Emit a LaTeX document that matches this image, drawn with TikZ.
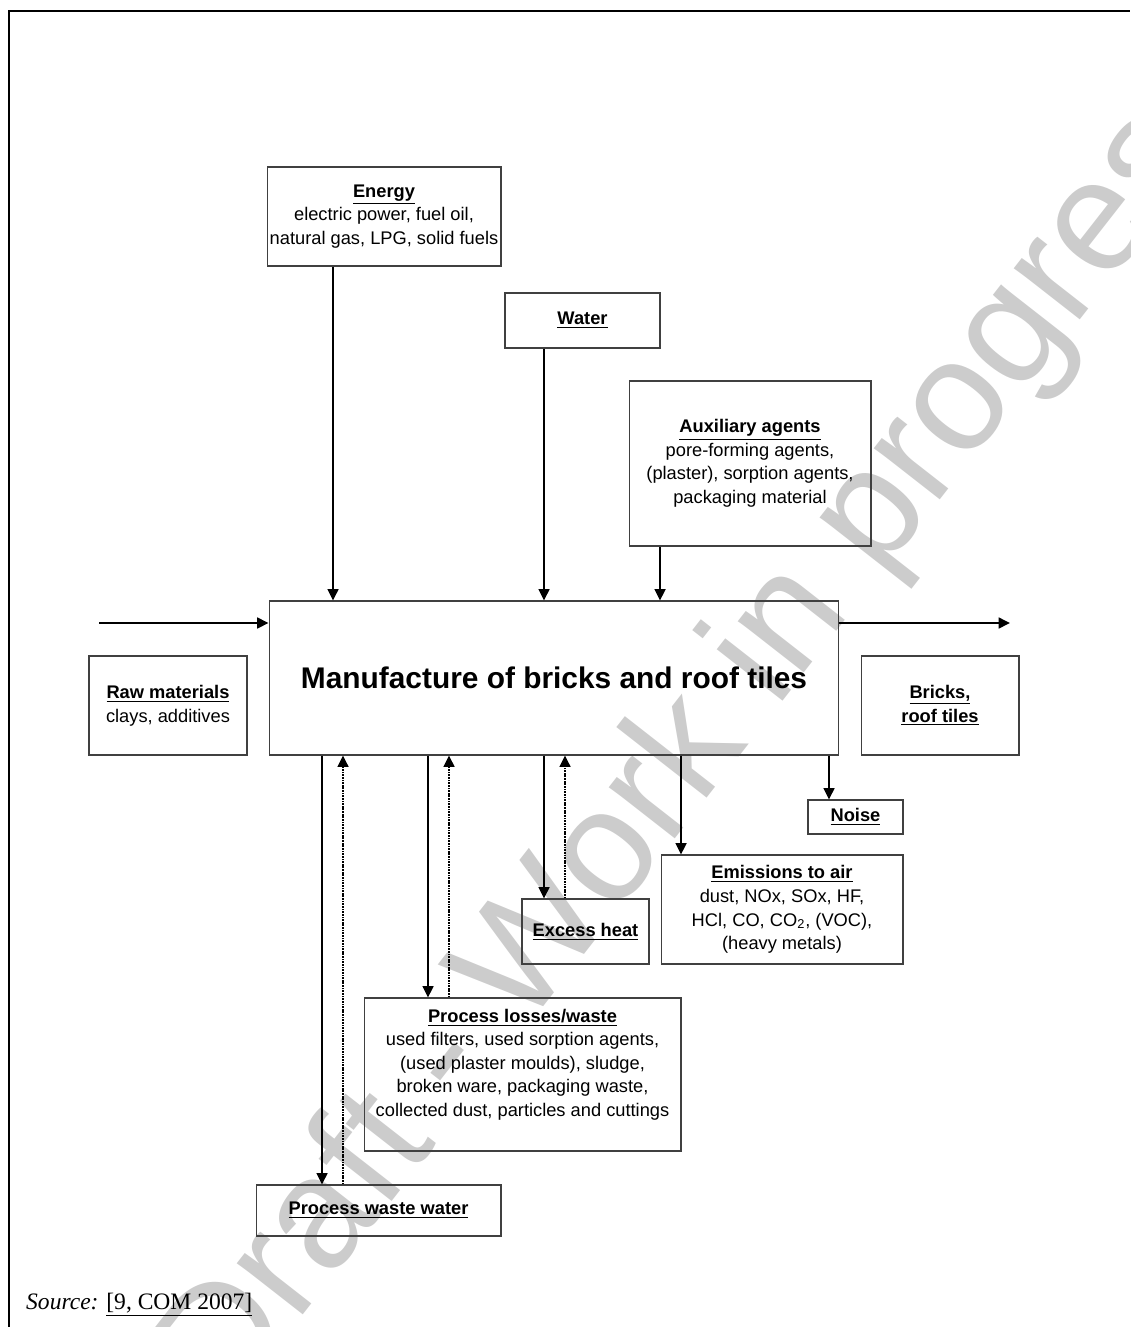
\documentclass[tikz,border=0pt]{standalone}
\usepackage{fontspec}
\setmainfont{Liberation Sans}
\newfontfamily\srcfont{Liberation Serif}
\usetikzlibrary{arrows.meta,positioning}

\newcommand{\boxhead}[1]{\textbf{\underline{#1}}}

\begin{document}
\begin{tikzpicture}[
  x=0.02cm, y=-0.02cm,
  every node/.style={font=\fontsize{10.4}{13.4}\selectfont},
  box/.style={draw=black!75,line width=0.6pt,align=center,inner sep=0pt},
  a/.style={-{Triangle[length=6.5pt,width=6.2pt]},line width=1.1pt},
  ad/.style={a,line width=1.1pt,dash pattern=on 1pt off 0.5pt}
]
  \useasboundingbox (0,0) rectangle (1130,1327);
  % watermark
  \begin{scope}
    \clip (0,0) rectangle (1130,1327);
    \node[rotate=52,text=black!20,font=\fontsize{90}{90}\selectfont] (wm) at (710,728)
      {Draft - Work in progress};
  \end{scope}
  \draw[line width=1.1pt] (9,1327) -- (9,11) -- (1130,11);

  \node[box,minimum width=11.4cm,minimum height=3.08cm,
    font=\fontsize{17}{20}\selectfont\bfseries] (main) at (554,678)
    {Manufacture of bricks and roof tiles};
  \node[box,minimum width=4.68cm,minimum height=1.98cm] (energy) at (384,216.5)
    {\boxhead{Energy}\\electric power, fuel oil,\\natural gas, LPG, solid fuels};
  \node[box,minimum width=3.1cm,minimum height=1.1cm] (water) at (582.5,320.5)
    {\boxhead{Water}};
  \node[box,minimum width=4.84cm,minimum height=3.3cm] (aux) at (750,463.5)
    {\boxhead{Auxiliary agents}\\pore-forming agents,\\(plaster), sorption agents,\\packaging material};
  \node[box,minimum width=3.16cm,minimum height=1.98cm] (raw) at (168,705.5)
    {\boxhead{Raw materials}\\clays, additives};
  \node[box,minimum width=3.16cm,minimum height=1.98cm] (prod) at (940,705.5)
    {\boxhead{Bricks,}\\\boxhead{roof tiles}};
  \node[box,minimum width=1.9cm,minimum height=0.68cm] (noise) at (855.5,817)
    {\boxhead{Noise}};
  \node[box,minimum width=4.84cm,minimum height=2.18cm] (air) at (782,909.5)
    {\boxhead{Emissions to air}\\dust, NOx, SOx, HF,\\HCl, CO, CO\textsubscript{2}, (VOC),\\(heavy metals)};
  \node[box,minimum width=2.54cm,minimum height=1.3cm] (heat) at (585.5,931.5)
    {\boxhead{Excess heat}};
  \node[box,minimum width=6.34cm,minimum height=3.06cm] (loss) at (522.5,1074.5)
    {\boxhead{Process losses/waste}\\used filters, used sorption agents,\\(used plaster moulds), sludge,\\broken ware, packaging waste,\\collected dust, particles and cuttings\\\mbox{}};
  \node[box,minimum width=4.9cm,minimum height=1.02cm] (ww) at (378.5,1210.5)
    {\boxhead{Process waste water}};
  \node[anchor=west,font=\srcfont\fontsize{13.4}{16}\selectfont] (src) at (20,1305)
    {\textit{Source:} \underline{[9, COM 2007]}};

  \coordinate (rawin) at (99,623);
  \coordinate (prodout) at (1010,623);

  % inputs
  \draw[a] ([xshift=-1.02cm]energy.south) -- ([xshift=-1.02cm]energy.south |- main.north);
  \draw[a] ([xshift=-0.77cm]water.south) -- ([xshift=-0.77cm]water.south |- main.north);
  \draw[a] ([xshift=-1.8cm]aux.south) -- ([xshift=-1.8cm]aux.south |- main.north);
  \draw[a] (rawin) -- (rawin -| main.west);
  \draw[a] (prodout -| main.east) -- (prodout);
  % outputs
  \draw[a] ([xshift=-0.53cm]noise.north |- main.south) -- ([xshift=-0.53cm]noise.north);
  \draw[a] ([xshift=-2.02cm]air.north |- main.south) -- ([xshift=-2.02cm]air.north);
  \draw[a] ([xshift=-0.83cm]heat.north |- main.south) -- ([xshift=-0.83cm]heat.north);
  \draw[ad] ([xshift=-0.41cm]heat.north) -- ([xshift=-0.41cm]heat.north |- main.south);
  \draw[a] ([xshift=-1.89cm]loss.north |- main.south) -- ([xshift=-1.89cm]loss.north);
  \draw[ad] ([xshift=-1.47cm]loss.north) -- ([xshift=-1.47cm]loss.north |- main.south);
  \draw[a] ([xshift=-1.13cm]ww.north |- main.south) -- ([xshift=-1.13cm]ww.north);
  \draw[ad] ([xshift=-0.71cm]ww.north) -- ([xshift=-0.71cm]ww.north |- main.south);
\end{tikzpicture}
\end{document}
